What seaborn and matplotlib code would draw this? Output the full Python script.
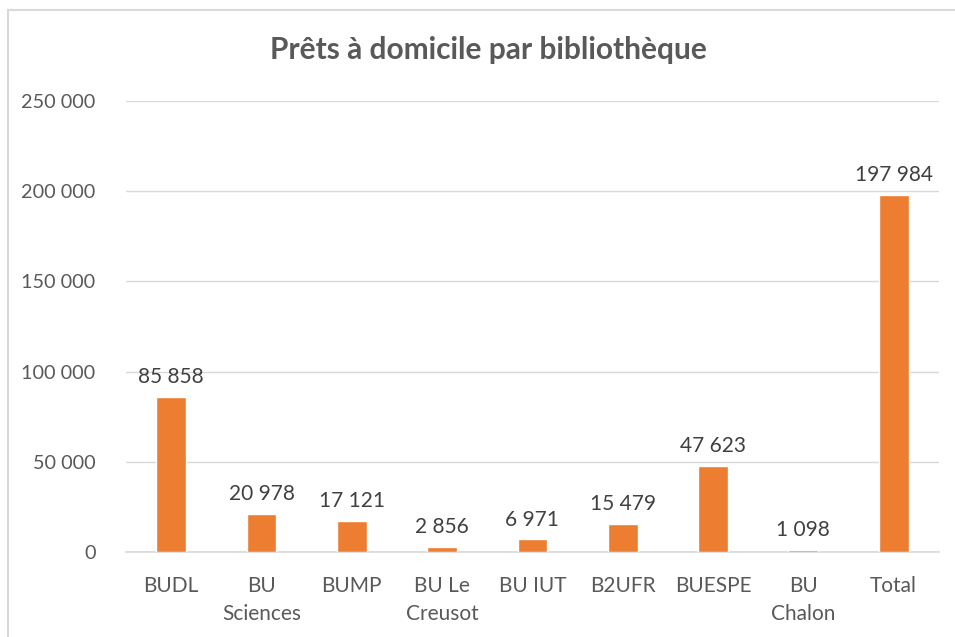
import matplotlib
matplotlib.use("Agg")
import matplotlib.pyplot as plt
import seaborn as sns
from matplotlib.patches import Rectangle

# data
bibliotheques = ["BUDL", "BU\nSciences", "BUMP", "BU Le\nCreusot", "BU IUT",
                 "B2UFR", "BUESPE", "BU\nChalon", "Total"]
prets = [85858, 20978, 17121, 2856, 6971, 15479, 47623, 1098, 197984]
yticks = [0, 50000, 100000, 150000, 200000, 250000]


def fmt(v):
    return f"{v:,}".replace(",", " ")


sns.set_theme(style="white")
plt.rcParams['font.family'] = ['Lato', 'DejaVu Sans']

fig = plt.figure(figsize=(9.55, 6.37), dpi=100)
ax = fig.add_axes([0.132, 0.1334, 0.851, 0.708])

sns.barplot(x=bibliotheques, y=prets, color="#ED7D31", width=0.33,
            saturation=1, ax=ax, zorder=3)

ax.set_ylim(0, 250000)
ax.set_yticks(yticks)
ax.set_yticklabels([fmt(t) for t in yticks])
ax.yaxis.grid(True, color="#D9D9D9", linewidth=1)
ax.set_axisbelow(True)
for s in ["top", "right", "left"]:
    ax.spines[s].set_visible(False)
ax.spines["bottom"].set_color("#D9D9D9")
ax.spines["bottom"].set_zorder(1)
ax.tick_params(axis="both", length=0, colors="#595959")
ax.tick_params(axis="y", pad=22, labelsize=14.3)
ax.tick_params(axis="x", pad=17, labelsize=15)
for lbl in ax.get_xticklabels():
    lbl.set_linespacing(1.55)

ax.bar_label(ax.containers[0], labels=[fmt(v) for v in prets],
             padding=7, fontsize=15, color="#404040")

fig.text(0.511, 0.921, "Prêts à domicile par bibliothèque", ha="center",
         va="center", fontsize=21.5, fontweight="bold", color="#595959")

# chart frame
fig.patches.append(Rectangle((0.0084, -0.1), 1.2, 1.084, transform=fig.transFigure,
                             fill=False, edgecolor="#D9D9D9", linewidth=1.5))

plt.savefig("out.png", dpi=100)
